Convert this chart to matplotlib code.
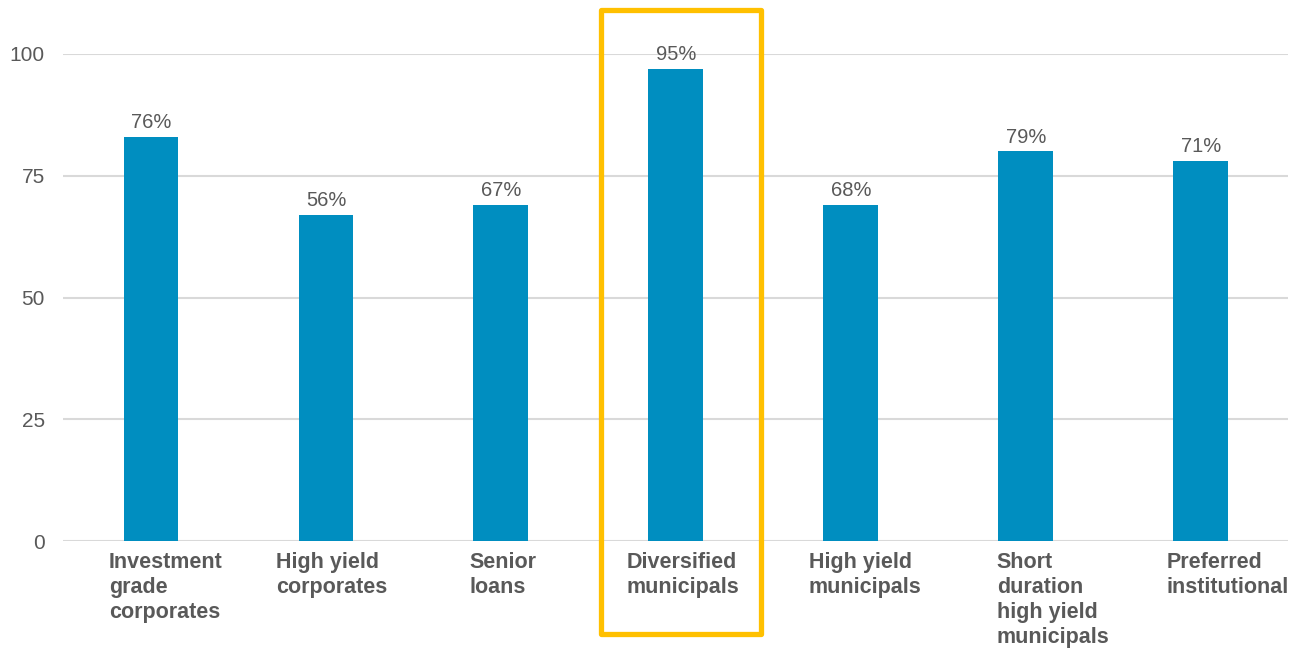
import matplotlib
matplotlib.use("Agg")
import matplotlib.pyplot as plt
from matplotlib.patches import Rectangle

plt.rcParams["font.family"] = ["Liberation Sans", "DejaVu Sans"]

categories = [
    "Investment\ngrade\ncorporates",
    "High yield\ncorporates",
    "Senior\nloans",
    "Diversified\nmunicipals",
    "High yield\nmunicipals",
    "Short\nduration\nhigh yield\nmunicipals",
    "Preferred\ninstitutional",
]
scores = [83, 67, 69, 97, 69, 80, 78]
pct_labels = ["76%", "56%", "67%", "95%", "68%", "79%", "71%"]
y_ticks = [0, 25, 50, 75, 100]
highlight_index = 3

BAR_COLOR = "#008EC0"
TEXT_COLOR = "#595959"
GRID_COLOR = "#D9D9D9"
HIGHLIGHT_COLOR = "#FFC000"

# left edge of each category label block, relative to the bar centre
label_shift = [-0.24, -0.286, -0.18, -0.28, -0.24, -0.166, -0.194]

fig = plt.figure(figsize=(12.89, 6.49), dpi=100)
ax = fig.add_axes([0.04926, 0.1664, 0.9503, 0.7504])

x = list(range(len(categories)))
bars = ax.bar(x, scores, width=0.314, color=BAR_COLOR, zorder=3)

ax.set_xlim(-0.5, len(categories) - 0.5)
ax.set_ylim(0, 100)
ax.set_yticks(y_ticks)
ax.set_yticklabels([str(t) for t in y_ticks], fontsize=15, color=TEXT_COLOR)
ax.tick_params(axis="y", length=0, pad=13.5)
ax.set_xticks([])
ax.grid(axis="y", color=GRID_COLOR, linewidth=1.5, zorder=0)
ax.set_axisbelow(True)
for side in ["top", "right", "left", "bottom"]:
    ax.spines[side].set_visible(False)
ax.axhline(0, color=GRID_COLOR, linewidth=1.8, zorder=2)

# value labels above the bars
for rect, txt in zip(bars, pct_labels):
    ax.annotate(txt, (rect.get_x() + rect.get_width() / 2, rect.get_height()),
                xytext=(0, 3.5), textcoords="offset points",
                ha="center", va="bottom", fontsize=14.5, color=TEXT_COLOR,
                clip_on=False, zorder=4)

# category labels, left-aligned blocks under each bar
for xi, name, dx in zip(x, categories, label_shift):
    ax.text(xi + dx, -2.2, name, ha="left", va="top", fontsize=15.5,
            fontweight="bold", color=TEXT_COLOR, linespacing=1.25,
            clip_on=False)

# highlight frame around the selected category
hx0, hx1 = highlight_index - 0.43, highlight_index + 0.486
hy0, hy1 = -19.1, 109.0
frame = Rectangle((hx0, hy0), hx1 - hx0, hy1 - hy0, fill=False,
                  edgecolor=HIGHLIGHT_COLOR, linewidth=3.8, joinstyle="round",
                  transform=ax.transData, clip_on=False, zorder=5)
ax.add_patch(frame)

fig.savefig("out.png", dpi=100, facecolor="white")
